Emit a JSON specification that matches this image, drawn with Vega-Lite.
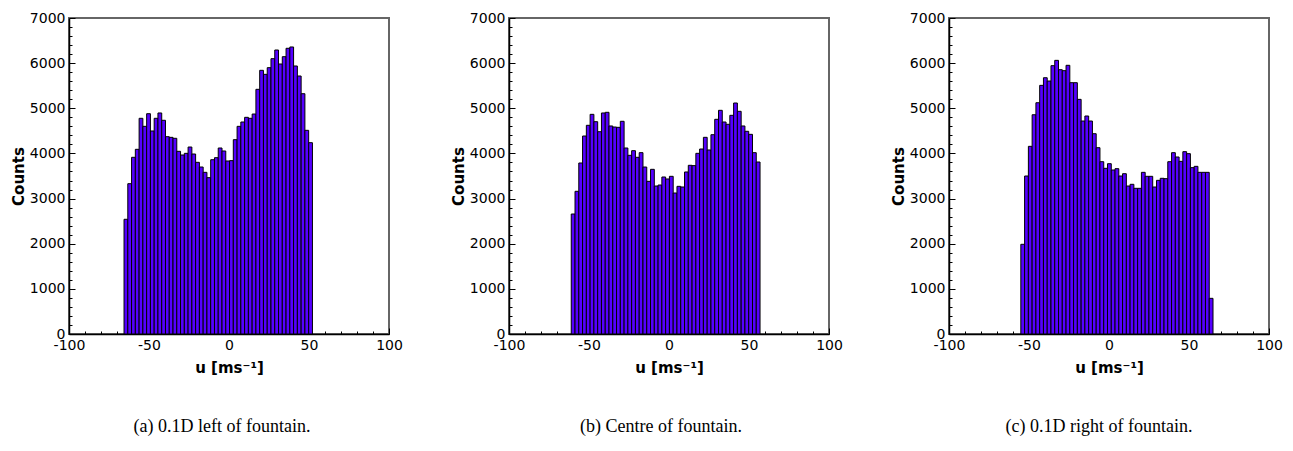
{
  "$schema": "https://vega.github.io/schema/vega-lite/v6.json",
  "padding": {"left": 10, "top": 10, "right": 5, "bottom": 5},
  "background": "white",
  "datasets": {
    "a": [
      {"u0": -65.60, "u1": -63.25, "c": 2541}, {"u0": -63.25, "u1": -60.89, "c": 3330}, {"u0": -60.89, "u1": -58.54, "c": 3914}, {"u0": -58.54, "u1": -56.18, "c": 4091}, {"u0": -56.18, "u1": -53.83, "c": 4778},
      {"u0": -53.83, "u1": -51.47, "c": 4600}, {"u0": -51.47, "u1": -49.12, "c": 4880}, {"u0": -49.12, "u1": -46.76, "c": 4497}, {"u0": -46.76, "u1": -44.41, "c": 4778}, {"u0": -44.41, "u1": -42.05, "c": 4896},
      {"u0": -42.05, "u1": -39.70, "c": 4734}, {"u0": -39.70, "u1": -37.34, "c": 4371}, {"u0": -37.34, "u1": -34.99, "c": 4356}, {"u0": -34.99, "u1": -32.63, "c": 4335}, {"u0": -32.63, "u1": -30.28, "c": 4047},
      {"u0": -30.28, "u1": -27.92, "c": 3965}, {"u0": -27.92, "u1": -25.57, "c": 4002}, {"u0": -25.57, "u1": -23.21, "c": 4142}, {"u0": -23.21, "u1": -20.86, "c": 3987}, {"u0": -20.86, "u1": -18.50, "c": 3803},
      {"u0": -18.50, "u1": -16.15, "c": 3699}, {"u0": -16.15, "u1": -13.79, "c": 3581}, {"u0": -13.79, "u1": -11.44, "c": 3463}, {"u0": -11.44, "u1": -9.08, "c": 3861}, {"u0": -9.08, "u1": -6.73, "c": 3906},
      {"u0": -6.73, "u1": -4.37, "c": 4120}, {"u0": -4.37, "u1": -2.02, "c": 4054}, {"u0": -2.02, "u1": 0.34, "c": 3832}, {"u0": 0.34, "u1": 2.69, "c": 3840}, {"u0": 2.69, "u1": 5.05, "c": 4305},
      {"u0": 5.05, "u1": 7.40, "c": 4600}, {"u0": 7.40, "u1": 9.76, "c": 4696}, {"u0": 9.76, "u1": 12.11, "c": 4800}, {"u0": 12.11, "u1": 14.47, "c": 4778}, {"u0": 14.47, "u1": 16.82, "c": 4873},
      {"u0": 16.82, "u1": 19.18, "c": 5420}, {"u0": 19.18, "u1": 21.53, "c": 5841}, {"u0": 21.53, "u1": 23.89, "c": 5752}, {"u0": 23.89, "u1": 26.24, "c": 5900}, {"u0": 26.24, "u1": 28.60, "c": 6099},
      {"u0": 28.60, "u1": 30.95, "c": 6291}, {"u0": 30.95, "u1": 33.31, "c": 5981}, {"u0": 33.31, "u1": 35.66, "c": 6143}, {"u0": 35.66, "u1": 38.02, "c": 6329}, {"u0": 38.02, "u1": 40.37, "c": 6358},
      {"u0": 40.37, "u1": 42.73, "c": 5937}, {"u0": 42.73, "u1": 45.08, "c": 5715}, {"u0": 45.08, "u1": 47.44, "c": 5323}, {"u0": 47.44, "u1": 49.79, "c": 4512}, {"u0": 49.79, "u1": 52.15, "c": 4238}
    ],
    "b": [
      {"u0": -61.10, "u1": -58.74, "c": 2658}, {"u0": -58.74, "u1": -56.38, "c": 3161}, {"u0": -56.38, "u1": -54.02, "c": 3788}, {"u0": -54.02, "u1": -51.66, "c": 4386}, {"u0": -51.66, "u1": -49.30, "c": 4623},
      {"u0": -49.30, "u1": -46.94, "c": 4866}, {"u0": -46.94, "u1": -44.58, "c": 4703}, {"u0": -44.58, "u1": -42.22, "c": 4481}, {"u0": -42.22, "u1": -39.86, "c": 4896}, {"u0": -39.86, "u1": -37.50, "c": 4911},
      {"u0": -37.50, "u1": -35.14, "c": 4608}, {"u0": -35.14, "u1": -32.78, "c": 4585}, {"u0": -32.78, "u1": -30.42, "c": 4578}, {"u0": -30.42, "u1": -28.06, "c": 4712}, {"u0": -28.06, "u1": -25.70, "c": 4120},
      {"u0": -25.70, "u1": -23.34, "c": 3958}, {"u0": -23.34, "u1": -20.98, "c": 4061}, {"u0": -20.98, "u1": -18.62, "c": 3914}, {"u0": -18.62, "u1": -16.26, "c": 4017}, {"u0": -16.26, "u1": -13.90, "c": 3699},
      {"u0": -13.90, "u1": -11.54, "c": 3382}, {"u0": -11.54, "u1": -9.18, "c": 3648}, {"u0": -9.18, "u1": -6.82, "c": 3278}, {"u0": -6.82, "u1": -4.46, "c": 3300}, {"u0": -4.46, "u1": -2.10, "c": 3478},
      {"u0": -2.10, "u1": 0.26, "c": 3434}, {"u0": 0.26, "u1": 2.62, "c": 3493}, {"u0": 2.62, "u1": 4.98, "c": 3123}, {"u0": 4.98, "u1": 7.34, "c": 3271}, {"u0": 7.34, "u1": 9.70, "c": 3256},
      {"u0": 9.70, "u1": 12.06, "c": 3589}, {"u0": 12.06, "u1": 14.42, "c": 3737}, {"u0": 14.42, "u1": 16.78, "c": 3730}, {"u0": 16.78, "u1": 19.14, "c": 4002}, {"u0": 19.14, "u1": 21.50, "c": 4098},
      {"u0": 21.50, "u1": 23.86, "c": 4357}, {"u0": 23.86, "u1": 26.22, "c": 4076}, {"u0": 26.22, "u1": 28.58, "c": 4415}, {"u0": 28.58, "u1": 30.94, "c": 4756}, {"u0": 30.94, "u1": 33.30, "c": 4955},
      {"u0": 33.30, "u1": 35.66, "c": 4696}, {"u0": 35.66, "u1": 38.02, "c": 4645}, {"u0": 38.02, "u1": 40.38, "c": 4844}, {"u0": 40.38, "u1": 42.74, "c": 5117}, {"u0": 42.74, "u1": 45.10, "c": 4933},
      {"u0": 45.10, "u1": 47.46, "c": 4608}, {"u0": 47.46, "u1": 49.82, "c": 4490}, {"u0": 49.82, "u1": 52.18, "c": 4423}, {"u0": 52.18, "u1": 54.54, "c": 4017}, {"u0": 54.54, "u1": 56.90, "c": 3810}
    ],
    "c": [
      {"u0": -55.10, "u1": -52.75, "c": 1987}, {"u0": -52.75, "u1": -50.39, "c": 3500}, {"u0": -50.39, "u1": -48.04, "c": 4157}, {"u0": -48.04, "u1": -45.68, "c": 4857}, {"u0": -45.68, "u1": -43.33, "c": 5123},
      {"u0": -43.33, "u1": -40.97, "c": 5508}, {"u0": -40.97, "u1": -38.62, "c": 5677}, {"u0": -38.62, "u1": -36.26, "c": 5604}, {"u0": -36.26, "u1": -33.91, "c": 5944}, {"u0": -33.91, "u1": -31.55, "c": 6062},
      {"u0": -31.55, "u1": -29.20, "c": 5855}, {"u0": -29.20, "u1": -26.84, "c": 5833}, {"u0": -26.84, "u1": -24.49, "c": 5952}, {"u0": -24.49, "u1": -22.13, "c": 5567}, {"u0": -22.13, "u1": -19.78, "c": 5567},
      {"u0": -19.78, "u1": -17.42, "c": 5198}, {"u0": -17.42, "u1": -15.07, "c": 4718}, {"u0": -15.07, "u1": -12.71, "c": 4829}, {"u0": -12.71, "u1": -10.36, "c": 4718}, {"u0": -10.36, "u1": -8.00, "c": 4437},
      {"u0": -8.00, "u1": -5.65, "c": 4127}, {"u0": -5.65, "u1": -3.29, "c": 3817}, {"u0": -3.29, "u1": -0.94, "c": 3670}, {"u0": -0.94, "u1": 1.42, "c": 3773}, {"u0": 1.42, "u1": 3.77, "c": 3633},
      {"u0": 3.77, "u1": 6.13, "c": 3662}, {"u0": 6.13, "u1": 8.48, "c": 3500}, {"u0": 8.48, "u1": 10.84, "c": 3551}, {"u0": 10.84, "u1": 13.19, "c": 3278}, {"u0": 13.19, "u1": 15.55, "c": 3316},
      {"u0": 15.55, "u1": 17.90, "c": 3227}, {"u0": 17.90, "u1": 20.26, "c": 3227}, {"u0": 20.26, "u1": 22.61, "c": 3581}, {"u0": 22.61, "u1": 24.97, "c": 3493}, {"u0": 24.97, "u1": 27.32, "c": 3493},
      {"u0": 27.32, "u1": 29.68, "c": 3256}, {"u0": 29.68, "u1": 32.03, "c": 3404}, {"u0": 32.03, "u1": 34.39, "c": 3449}, {"u0": 34.39, "u1": 36.74, "c": 3441}, {"u0": 36.74, "u1": 39.10, "c": 3817},
      {"u0": 39.10, "u1": 41.45, "c": 4017}, {"u0": 41.45, "u1": 43.81, "c": 3921}, {"u0": 43.81, "u1": 46.16, "c": 3825}, {"u0": 46.16, "u1": 48.52, "c": 4039}, {"u0": 48.52, "u1": 50.87, "c": 3995},
      {"u0": 50.87, "u1": 53.23, "c": 3685}, {"u0": 53.23, "u1": 55.58, "c": 3714}, {"u0": 55.58, "u1": 57.94, "c": 3581}, {"u0": 57.94, "u1": 60.29, "c": 3581}, {"u0": 60.29, "u1": 62.65, "c": 3581},
      {"u0": 62.65, "u1": 65.00, "c": 790}
    ]
  },
  "hconcat": [
    {
      "data": {"name": "a"},
      "width": 320, "height": 316,
      "title": {"text": "(a) 0.1D left of fountain.", "dx": -7},
      "mark": {"type": "bar", "fill": "#5500ff", "stroke": "black", "strokeWidth": 1},
      "encoding": {
        "x": {"field": "u0", "type": "quantitative", "scale": {"domain": [-100, 100], "nice": false, "zero": false}, "title": "u [ms⁻¹]",
          "axis": {"values": [-100,-90,-80,-70,-60,-50,-40,-30,-20,-10,0,10,20,30,40,50,60,70,80,90,100], "labelExpr": "datum.value % 50 === 0 ? '' + datum.value : ''", "tickSize": {"condition": {"test": "datum.value % 50 === 0", "value": -6}, "value": -3}}},
        "x2": {"field": "u1"},
        "y": {"field": "c", "type": "quantitative", "scale": {"domain": [0, 7000], "nice": false}, "title": "Counts",
          "axis": {"values": [0,200,400,600,800,1000,1200,1400,1600,1800,2000,2200,2400,2600,2800,3000,3200,3400,3600,3800,4000,4200,4400,4600,4800,5000,5200,5400,5600,5800,6000,6200,6400,6600,6800,7000], "labelExpr": "datum.value % 1000 === 0 ? '' + datum.value : ''", "tickSize": {"condition": {"test": "datum.value % 1000 === 0", "value": -6}, "value": -3}}},
        "y2": {"datum": 0}
      }
    },
    {
      "data": {"name": "b"},
      "width": 320, "height": 316,
      "title": {"text": "(b) Centre of fountain.", "dx": -8},
      "mark": {"type": "bar", "fill": "#5500ff", "stroke": "black", "strokeWidth": 1},
      "encoding": {
        "x": {"field": "u0", "type": "quantitative", "scale": {"domain": [-100, 100], "nice": false, "zero": false}, "title": "u [ms⁻¹]",
          "axis": {"values": [-100,-90,-80,-70,-60,-50,-40,-30,-20,-10,0,10,20,30,40,50,60,70,80,90,100], "labelExpr": "datum.value % 50 === 0 ? '' + datum.value : ''", "tickSize": {"condition": {"test": "datum.value % 50 === 0", "value": -6}, "value": -3}}},
        "x2": {"field": "u1"},
        "y": {"field": "c", "type": "quantitative", "scale": {"domain": [0, 7000], "nice": false}, "title": "Counts",
          "axis": {"values": [0,200,400,600,800,1000,1200,1400,1600,1800,2000,2200,2400,2600,2800,3000,3200,3400,3600,3800,4000,4200,4400,4600,4800,5000,5200,5400,5600,5800,6000,6200,6400,6600,6800,7000], "labelExpr": "datum.value % 1000 === 0 ? '' + datum.value : ''", "tickSize": {"condition": {"test": "datum.value % 1000 === 0", "value": -6}, "value": -3}}},
        "y2": {"datum": 0}
      }
    },
    {
      "data": {"name": "c"},
      "width": 320, "height": 316,
      "title": {"text": "(c) 0.1D right of fountain.", "dx": -10},
      "mark": {"type": "bar", "fill": "#5500ff", "stroke": "black", "strokeWidth": 1},
      "encoding": {
        "x": {"field": "u0", "type": "quantitative", "scale": {"domain": [-100, 100], "nice": false, "zero": false}, "title": "u [ms⁻¹]",
          "axis": {"values": [-100,-90,-80,-70,-60,-50,-40,-30,-20,-10,0,10,20,30,40,50,60,70,80,90,100], "labelExpr": "datum.value % 50 === 0 ? '' + datum.value : ''", "tickSize": {"condition": {"test": "datum.value % 50 === 0", "value": -6}, "value": -3}}},
        "x2": {"field": "u1"},
        "y": {"field": "c", "type": "quantitative", "scale": {"domain": [0, 7000], "nice": false}, "title": "Counts",
          "axis": {"values": [0,200,400,600,800,1000,1200,1400,1600,1800,2000,2200,2400,2600,2800,3000,3200,3400,3600,3800,4000,4200,4400,4600,4800,5000,5200,5400,5600,5800,6000,6200,6400,6600,6800,7000], "labelExpr": "datum.value % 1000 === 0 ? '' + datum.value : ''", "tickSize": {"condition": {"test": "datum.value % 1000 === 0", "value": -6}, "value": -3}}},
        "y2": {"datum": 0}
      }
    }
  ],
  "spacing": 120,
  "bounds": "flush",
  "config": {
    "view": {"stroke": "#666666", "strokeWidth": 2},
    "axis": {
      "grid": false, "domainColor": "black", "domainWidth": 1.5, "tickColor": "black", "tickWidth": 1,
      "labelFont": "DejaVu Sans", "labelFontSize": 14, "labelColor": "black", "labelFlush": false, "labelOverlap": false, "labelBound": false,
      "titleFont": "DejaVu Sans", "titleFontSize": 15, "titleFontWeight": "bold", "titleColor": "black"
    },
    "axisX": {"labelPadding": 10, "titlePadding": 5},
    "axisY": {"labelPadding": 10, "titlePadding": 3},
    "title": {"orient": "bottom", "anchor": "middle", "font": "Liberation Serif", "fontSize": 18, "fontWeight": "normal", "color": "black", "offset": 43}
  }
}
